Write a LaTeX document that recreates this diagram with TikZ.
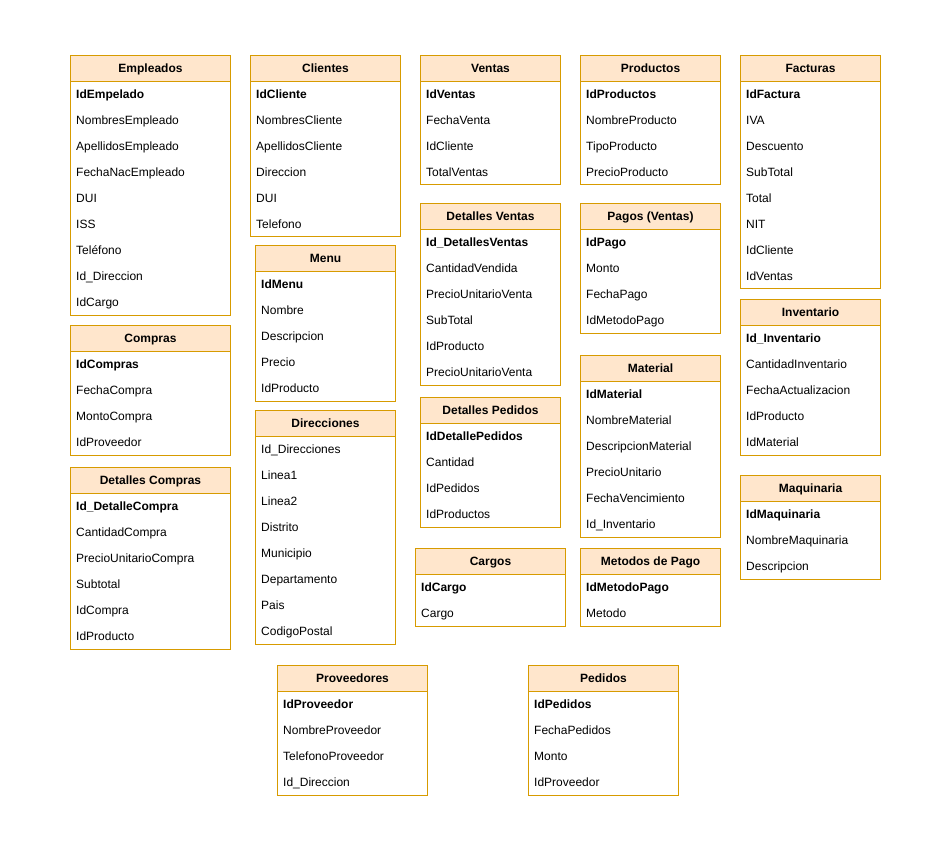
\documentclass[tikz,border=0pt]{standalone}
\usepackage{fontspec}
\setmainfont{Liberation Sans}
\definecolor{encabezado}{HTML}{FFE6CC}
\definecolor{borde}{HTML}{D79B00}
\newcommand{\letra}{\fontsize{12pt}{14pt}\selectfont}
\tikzset{
  hdr/.style={draw=borde, fill=encabezado, line width=1pt, minimum height=26pt,
    inner sep=0pt, text height=8.6pt, text depth=0pt, font=\letra\bfseries, anchor=north west},
  cuerpo/.style={draw=borde, line width=1pt, fill=white},
  campo/.style={inner sep=0pt, text height=8.6pt, text depth=0pt, anchor=west, font=\letra}
}
% tabla: name, x, y, width, rows, title, key, other fields
\newcommand{\tabla}[8]{%
  \draw[cuerpo] (#2,#3+26) rectangle ++(#4,26*#5);
  \node[hdr, minimum width=#4pt] (#1) at (#2,#3) {#6};
  \node[campo, font=\letra\bfseries] (#1-1) at (#2+6,#3+39.5) {#7};
  \foreach \f [count=\i from 2] in {#8}
    \node[campo] (#1-\i) at ({#2+6},{#3+13.5+26*\i}) {\f};
}
\begin{document}
\begin{tikzpicture}[x=1pt, y=-1pt]
  \useasboundingbox[fill=white] (0,0) rectangle (950,850);
  % first row of tables
  \tabla{empleados}{70}{55}{160}{9}{Empleados}{IdEmpelado}{NombresEmpleado, ApellidosEmpleado, FechaNacEmpleado, DUI, ISS, Teléfono, Id\_Direccion, IdCargo}
  \tabla{clientes}{250}{55}{150}{6}{Clientes}{IdCliente}{NombresCliente, ApellidosCliente, Direccion, DUI, Telefono}
  \tabla{ventas}{420}{55}{140}{4}{Ventas}{IdVentas}{FechaVenta, IdCliente, TotalVentas}
  \tabla{productos}{580}{55}{140}{4}{Productos}{IdProductos}{NombreProducto, TipoProducto, PrecioProducto}
  \tabla{facturas}{740}{55}{140}{8}{Facturas}{IdFactura}{IVA, Descuento, SubTotal, Total, NIT, IdCliente, IdVentas}
  % left column
  \tabla{compras}{70}{325}{160}{4}{Compras}{IdCompras}{FechaCompra, MontoCompra, IdProveedor}
  \tabla{detcompras}{70}{467}{160}{6}{Detalles Compras}{Id\_DetalleCompra}{CantidadCompra, PrecioUnitarioCompra, Subtotal, IdCompra, IdProducto}
  % middle columns
  \tabla{menu}{255}{245}{140}{5}{Menu}{IdMenu}{Nombre, Descripcion, Precio, IdProducto}
  \tabla{direcciones}{255}{410}{140}{8}{Direcciones}{\mdseries Id\_Direcciones}{Linea1, Linea2, Distrito, Municipio, Departamento, Pais, CodigoPostal}
  \tabla{detventas}{420}{203}{140}{6}{Detalles Ventas}{Id\_DetallesVentas}{CantidadVendida, PrecioUnitarioVenta, SubTotal, IdProducto, PrecioUnitarioVenta}
  \tabla{detpedidos}{420}{397}{140}{4}{Detalles Pedidos}{IdDetallePedidos}{Cantidad, IdPedidos, IdProductos}
  \tabla{cargos}{415}{548}{150}{2}{Cargos}{IdCargo}{Cargo}
  \tabla{pagos}{580}{203}{140}{4}{Pagos (Ventas)}{IdPago}{Monto, FechaPago, IdMetodoPago}
  \tabla{material}{580}{355}{140}{6}{Material}{IdMaterial}{NombreMaterial, DescripcionMaterial, PrecioUnitario, FechaVencimiento, Id\_Inventario}
  \tabla{metodos}{580}{548}{140}{2}{Metodos de Pago}{IdMetodoPago}{Metodo}
  % right column
  \tabla{inventario}{740}{299}{140}{5}{Inventario}{Id\_Inventario}{CantidadInventario, FechaActualizacion, IdProducto, IdMaterial}
  \tabla{maquinaria}{740}{475}{140}{3}{Maquinaria}{IdMaquinaria}{NombreMaquinaria, Descripcion}
  % bottom row
  \tabla{proveedores}{277}{665}{150}{4}{Proveedores}{IdProveedor}{NombreProveedor, TelefonoProveedor, Id\_Direccion}
  \tabla{pedidos}{528}{665}{150}{4}{Pedidos}{IdPedidos}{FechaPedidos, Monto, IdProveedor}
\end{tikzpicture}
\end{document}
